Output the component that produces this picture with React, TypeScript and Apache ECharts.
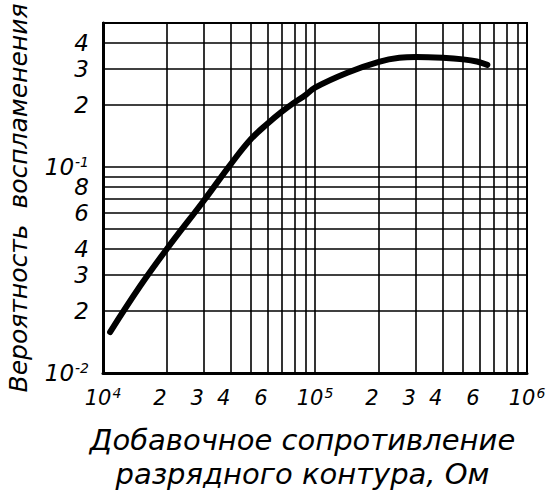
import React, { useEffect, useRef } from 'react';
import * as echarts from 'echarts';

// Curve: additional resistance of discharge circuit (Ohm) vs ignition probability
const resistance = [10800, 15000, 20000, 30000, 40000, 50000, 60000, 70000, 80000, 90000, 100000, 142000, 200000, 250000, 300000, 400000, 500000, 580000, 650000];
const probability = [0.0158, 0.0265, 0.04, 0.069, 0.103, 0.137, 0.163, 0.186, 0.206, 0.223, 0.243, 0.287, 0.324, 0.339, 0.342, 0.339, 0.333, 0.325, 0.313];

// Grid lines
const xGridValues = [20000, 30000, 40000, 50000, 60000, 70000, 80000, 90000, 100000, 200000, 300000, 400000, 500000, 600000, 700000, 800000, 900000];
const xLabelValues = [20000, 30000, 40000, 60000, 200000, 300000, 400000, 600000];
const xLabelTexts = ['2', '3', '4', '6', '2', '3', '4', '6'];

const yGridValues = [0.02, 0.03, 0.04, 0.05, 0.06, 0.07, 0.08, 0.09, 0.1, 0.2, 0.3, 0.4];
const yLabelValues = [0.02, 0.03, 0.04, 0.06, 0.08, 0.2, 0.3, 0.4];
const yLabelTexts = ['2', '3', '4', '6', '8', '2', '3', '4'];

const xTitle = 'Добавочное сопротивление\nразрядного контура, Ом';
const yTitle = 'Вероятность  воспламенения';

const FONT = "'DejaVu Sans', sans-serif";

export default function App() {
  const ref = useRef<HTMLDivElement>(null);
  useEffect(() => {
    if (!ref.current) return;
    const chart = echarts.init(ref.current, undefined, { renderer: 'svg' });
    const lineStyle = { color: '#000', width: 1.6, type: 'solid' as const };
    const labelBase = {
      fontFamily: FONT,
      fontStyle: 'italic' as const,
      color: '#000',
    };
    const xMarks = xGridValues.map((v) => {
      const i = xLabelValues.indexOf(v);
      return {
        xAxis: v,
        label: i >= 0
          ? { show: true, position: 'start' as const, formatter: xLabelTexts[i], distance: 14, fontSize: 21, offset: [-7, 0], ...labelBase }
          : { show: false },
      };
    });
    const yMarks = yGridValues.map((v) => {
      const i = yLabelValues.indexOf(v);
      return {
        yAxis: v,
        label: i >= 0
          ? { show: true, position: 'start' as const, formatter: yLabelTexts[i], distance: 14, fontSize: 23, ...labelBase }
          : { show: false },
      };
    });
    const sup = { fontSize: 14, verticalAlign: 'top' as const, padding: [0, 0, 10, 1], fontFamily: FONT, fontStyle: 'italic' as const, color: '#000' };
    chart.setOption({
      animation: false,
      backgroundColor: '#fff',
      grid: {
        left: 103, right: 24, top: 23, bottom: 120,
        containLabel: false, outerBoundsMode: 'none',
        show: true, borderColor: '#000', borderWidth: 2,
      },
      xAxis: {
        type: 'log',
        logBase: 10,
        min: 10000,
        max: 1000000,
        name: xTitle,
        nameLocation: 'middle',
        nameGap: 50,
        nameTextStyle: { fontFamily: FONT, fontStyle: 'italic', fontSize: 29, lineHeight: 34, color: '#000', align: 'center', padding: [0, 25, 0, 0] },
        axisLine: { show: true, lineStyle: { color: '#000', width: 3 } },
        axisTick: { show: false },
        splitLine: { show: false },
        axisLabel: {
          margin: 13,
          fontSize: 21,
          fontFamily: FONT,
          fontStyle: 'italic',
          color: '#000',
          formatter: (v: number) => `10{s|${Math.round(Math.log10(v))}}`,
          rich: { s: sup },
        },
      },
      yAxis: {
        type: 'log',
        logBase: 10,
        min: 0.01,
        max: 0.5,
        name: yTitle,
        nameLocation: 'middle',
        nameRotate: 90,
        nameGap: 72,
        nameTextStyle: { fontFamily: FONT, fontStyle: 'italic', fontSize: 25, color: '#000' },
        axisLine: { show: true, lineStyle: { color: '#000', width: 3 } },
        axisTick: { show: false },
        splitLine: { show: false },
        axisLabel: {
          margin: 14,
          fontSize: 23,
          fontFamily: FONT,
          fontStyle: 'italic',
          color: '#000',
          formatter: (v: number) => {
            const e = Math.log10(v);
            if (Math.abs(e - Math.round(e)) > 1e-6) return '';
            return `10{s|${Math.round(e)}}`;
          },
          rich: { s: sup },
        },
      },
      series: [
        {
          type: 'line',
          data: [],
          silent: true,
          z: 1,
          markLine: {
            silent: true,
            symbol: ['none', 'none'],
            animation: false,
            lineStyle,
            z: 1,
            data: [...xMarks, ...yMarks],
          },
        },
        {
          type: 'line',
          z: 10,
          smooth: 0.4,
          showSymbol: false,
          silent: true,
          lineStyle: { color: '#000', width: 6, cap: 'round' },
          data: resistance.map((r, i) => [r, probability[i]]),
        },
      ],
    });
    return () => chart.dispose();
  }, []);
  return (
    <div
      ref={ref}
      style={{ position: 'fixed', left: 0, top: 0, width: 551, height: 493, background: '#fff' }}
    />
  );
}
